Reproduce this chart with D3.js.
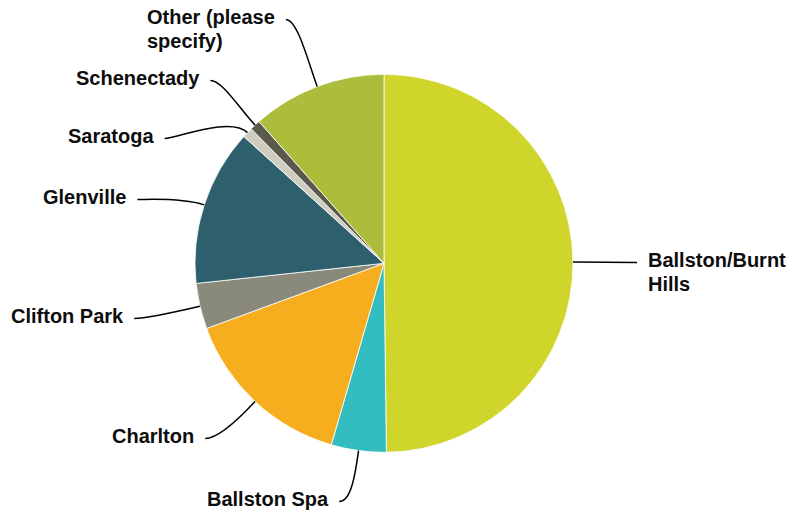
<!DOCTYPE html>
<html>
<head>
<meta charset="utf-8">
<script src="https://cdn.jsdelivr.net/npm/d3@7"></script>
<style>
  body { margin: 0; background: #fff; }
  text { font-family: "Liberation Sans", Arial, sans-serif; font-weight: bold; font-size: 20px; fill: #0d0d0d; }
</style>
</head>
<body>
<script>
var w = 798;
var h = 517;

// data (share of responses, %)
var categories = ["Ballston/Burnt Hills", "Ballston Spa", "Charlton", "Clifton Park",
                  "Glenville", "Saratoga", "Schenectady", "Other (please specify)"];
var values = [49.8, 4.7, 14.9, 3.9, 13.4, 0.9, 0.9, 11.5];
var colors = ["#cfd52a", "#33bdc0", "#f6ae1f", "#898a7a",
              "#2e5f6c", "#cfcdc0", "#5a5a4c", "#abbd3a"];
var labelLines = [["Ballston/Burnt", "Hills"], ["Ballston Spa"], ["Charlton"], ["Clifton Park"],
                  ["Glenville"], ["Saratoga"], ["Schenectady"], ["Other (please", "specify)"]];

// where each label sits (text start x, first baseline y, which side of the pie)
var labelPos = [
  {x: 648, y: 267, side: "right"},
  {x: 207, y: 506, side: "left"},
  {x: 112, y: 443, side: "left"},
  {x: 11,  y: 323, side: "left"},
  {x: 43,  y: 204, side: "left"},
  {x: 68,  y: 143, side: "left"},
  {x: 76,  y: 85,  side: "left"},
  {x: 147, y: 24,  side: "left"}
];

var cx = 384, cy = 263.3, r = 189;

var svg = d3.select("body").append("svg")
  .attr("width", w)
  .attr("height", h);

var data = categories.map(function (c, i) { return {name: c, value: values[i], i: i}; });

var pie = d3.pie().sort(null).value(function (d) { return d.value; });
var arcs = pie(data);

var arc = d3.arc().innerRadius(0).outerRadius(r);

var g = svg.append("g").attr("transform", "translate(" + cx + "," + cy + ")");

g.selectAll("path.slice")
  .data(arcs)
  .enter().append("path")
  .attr("class", "slice")
  .attr("d", arc)
  .attr("fill", function (d) { return colors[d.data.i]; })
  .attr("stroke", "#ffffff")
  .attr("stroke-width", 0.8);

// labels
var labels = svg.selectAll("text.lbl")
  .data(arcs)
  .enter().append("text")
  .attr("class", "lbl")
  .attr("x", function (d) { return labelPos[d.data.i].x; })
  .attr("y", function (d) { return labelPos[d.data.i].y; });

labels.each(function (d) {
  var t = d3.select(this);
  labelLines[d.data.i].forEach(function (line, k) {
    t.append("tspan")
      .attr("x", labelPos[d.data.i].x)
      .attr("dy", k === 0 ? 0 : 24)
      .text(line);
  });
});

// curved leader lines
labels.each(function (d) {
  var p = labelPos[d.data.i];
  var first = d3.select(this).select("tspan").node();
  var tw = first.getComputedTextLength();
  var mid = (d.startAngle + d.endAngle) / 2;
  var ux = Math.sin(mid), uy = -Math.cos(mid);
  var sx = cx + r * ux, sy = cy + r * uy;
  var ex, ey = p.y - 4.5, hx;
  if (p.side === "left") { ex = p.x + tw + 11; hx = 12; }
  else { ex = p.x - 11; hx = -12; }
  var path = d3.path();
  path.moveTo(ex, ey);
  if (p.side === "right") {
    path.lineTo(sx, sy);
  } else {
    path.bezierCurveTo(ex + hx, ey, sx + ux * 24, sy + uy * 24, sx, sy);
  }
  svg.append("path")
    .attr("d", path.toString())
    .attr("fill", "none")
    .attr("stroke", "#000")
    .attr("stroke-width", 1.5);
});
</script>
</body>
</html>
